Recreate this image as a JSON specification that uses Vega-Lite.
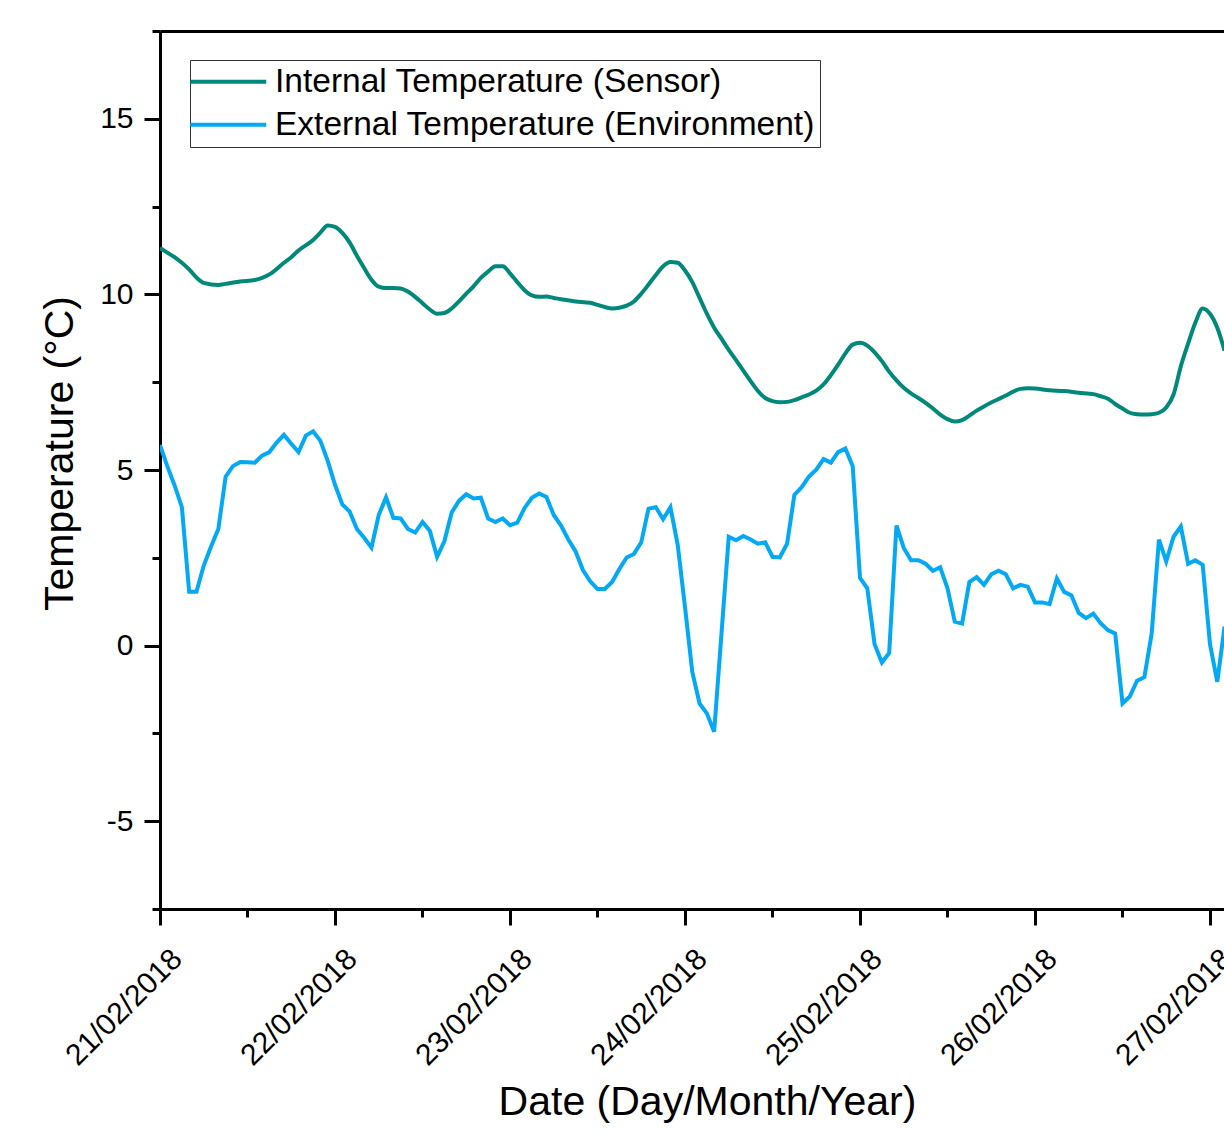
{
  "$schema": "https://vega.github.io/schema/vega-lite/v6.json",
  "autosize": "none",
  "width": 1064,
  "height": 878,
  "padding": {"left": 160, "top": 31, "right": 0, "bottom": 225},
  "background": "white",
  "config": {
    "view": {"stroke": null},
    "font": "Liberation Sans",
    "axis": {
      "labelFont": "Liberation Sans",
      "labelFontSize": 30,
      "labelColor": "black",
      "titleFont": "Liberation Sans",
      "titleFontSize": 41,
      "titleFontWeight": "normal",
      "titleColor": "black",
      "domainColor": "black",
      "domainWidth": 3,
      "tickColor": "black",
      "tickWidth": 3,
      "grid": false,
      "labelFlush": false,
      "labelOverlap": false,
      "labelBound": false
    }
  },
  "datasets": {
    "ext": [
      {"t": "2018-02-21T00:00Z", "v": 5.71}, {"t": "2018-02-21T01:00Z", "v": 5.11}, {"t": "2018-02-21T02:00Z", "v": 4.56}, {"t": "2018-02-21T03:00Z", "v": 3.94},
      {"t": "2018-02-21T04:00Z", "v": 1.53}, {"t": "2018-02-21T05:00Z", "v": 1.53}, {"t": "2018-02-21T06:00Z", "v": 2.28}, {"t": "2018-02-21T07:00Z", "v": 2.82},
      {"t": "2018-02-21T08:00Z", "v": 3.32}, {"t": "2018-02-21T09:00Z", "v": 4.81}, {"t": "2018-02-21T10:00Z", "v": 5.11}, {"t": "2018-02-21T11:00Z", "v": 5.23},
      {"t": "2018-02-21T12:00Z", "v": 5.22}, {"t": "2018-02-21T13:00Z", "v": 5.21}, {"t": "2018-02-21T14:00Z", "v": 5.41}, {"t": "2018-02-21T15:00Z", "v": 5.51},
      {"t": "2018-02-21T16:00Z", "v": 5.78}, {"t": "2018-02-21T17:00Z", "v": 6.0}, {"t": "2018-02-21T18:00Z", "v": 5.75}, {"t": "2018-02-21T19:00Z", "v": 5.51},
      {"t": "2018-02-21T20:00Z", "v": 5.98}, {"t": "2018-02-21T21:00Z", "v": 6.1}, {"t": "2018-02-21T22:00Z", "v": 5.83}, {"t": "2018-02-21T23:00Z", "v": 5.26},
      {"t": "2018-02-22T00:00Z", "v": 4.58}, {"t": "2018-02-22T01:00Z", "v": 4.02}, {"t": "2018-02-22T02:00Z", "v": 3.82}, {"t": "2018-02-22T03:00Z", "v": 3.32},
      {"t": "2018-02-22T04:00Z", "v": 3.07}, {"t": "2018-02-22T05:00Z", "v": 2.79}, {"t": "2018-02-22T06:00Z", "v": 3.72}, {"t": "2018-02-22T07:00Z", "v": 4.22},
      {"t": "2018-02-22T08:00Z", "v": 3.64}, {"t": "2018-02-22T09:00Z", "v": 3.62}, {"t": "2018-02-22T10:00Z", "v": 3.32}, {"t": "2018-02-22T11:00Z", "v": 3.22},
      {"t": "2018-02-22T12:00Z", "v": 3.52}, {"t": "2018-02-22T13:00Z", "v": 3.27}, {"t": "2018-02-22T14:00Z", "v": 2.53}, {"t": "2018-02-22T15:00Z", "v": 2.97},
      {"t": "2018-02-22T16:00Z", "v": 3.79}, {"t": "2018-02-22T17:00Z", "v": 4.12}, {"t": "2018-02-22T18:00Z", "v": 4.31}, {"t": "2018-02-22T19:00Z", "v": 4.19},
      {"t": "2018-02-22T20:00Z", "v": 4.21}, {"t": "2018-02-22T21:00Z", "v": 3.62}, {"t": "2018-02-22T22:00Z", "v": 3.52}, {"t": "2018-02-22T23:00Z", "v": 3.62},
      {"t": "2018-02-23T00:00Z", "v": 3.43}, {"t": "2018-02-23T01:00Z", "v": 3.5}, {"t": "2018-02-23T02:00Z", "v": 3.92}, {"t": "2018-02-23T03:00Z", "v": 4.21},
      {"t": "2018-02-23T04:00Z", "v": 4.33}, {"t": "2018-02-23T05:00Z", "v": 4.23}, {"t": "2018-02-23T06:00Z", "v": 3.72}, {"t": "2018-02-23T07:00Z", "v": 3.42},
      {"t": "2018-02-23T08:00Z", "v": 3.02}, {"t": "2018-02-23T09:00Z", "v": 2.68}, {"t": "2018-02-23T10:00Z", "v": 2.15}, {"t": "2018-02-23T11:00Z", "v": 1.83},
      {"t": "2018-02-23T12:00Z", "v": 1.61}, {"t": "2018-02-23T13:00Z", "v": 1.61}, {"t": "2018-02-23T14:00Z", "v": 1.81}, {"t": "2018-02-23T15:00Z", "v": 2.18},
      {"t": "2018-02-23T16:00Z", "v": 2.51}, {"t": "2018-02-23T17:00Z", "v": 2.61}, {"t": "2018-02-23T18:00Z", "v": 2.94}, {"t": "2018-02-23T19:00Z", "v": 3.9},
      {"t": "2018-02-23T20:00Z", "v": 3.94}, {"t": "2018-02-23T21:00Z", "v": 3.6}, {"t": "2018-02-23T22:00Z", "v": 3.94}, {"t": "2018-02-23T23:00Z", "v": 2.87},
      {"t": "2018-02-24T00:00Z", "v": 1.1}, {"t": "2018-02-24T01:00Z", "v": -0.75}, {"t": "2018-02-24T02:00Z", "v": -1.65}, {"t": "2018-02-24T03:00Z", "v": -1.93},
      {"t": "2018-02-24T04:00Z", "v": -2.45}, {"t": "2018-02-24T05:00Z", "v": 0.33}, {"t": "2018-02-24T06:00Z", "v": 3.1}, {"t": "2018-02-24T07:00Z", "v": 3.0},
      {"t": "2018-02-24T08:00Z", "v": 3.12}, {"t": "2018-02-24T09:00Z", "v": 3.02}, {"t": "2018-02-24T10:00Z", "v": 2.9}, {"t": "2018-02-24T11:00Z", "v": 2.94},
      {"t": "2018-02-24T12:00Z", "v": 2.53}, {"t": "2018-02-24T13:00Z", "v": 2.51}, {"t": "2018-02-24T14:00Z", "v": 2.9}, {"t": "2018-02-24T15:00Z", "v": 4.29},
      {"t": "2018-02-24T16:00Z", "v": 4.51}, {"t": "2018-02-24T17:00Z", "v": 4.81}, {"t": "2018-02-24T18:00Z", "v": 5.01}, {"t": "2018-02-24T19:00Z", "v": 5.31},
      {"t": "2018-02-24T20:00Z", "v": 5.21}, {"t": "2018-02-24T21:00Z", "v": 5.51}, {"t": "2018-02-24T22:00Z", "v": 5.61}, {"t": "2018-02-24T23:00Z", "v": 5.11},
      {"t": "2018-02-25T00:00Z", "v": 1.93}, {"t": "2018-02-25T01:00Z", "v": 1.63}, {"t": "2018-02-25T02:00Z", "v": 0.04}, {"t": "2018-02-25T03:00Z", "v": -0.48},
      {"t": "2018-02-25T04:00Z", "v": -0.21}, {"t": "2018-02-25T05:00Z", "v": 3.42}, {"t": "2018-02-25T06:00Z", "v": 2.78}, {"t": "2018-02-25T07:00Z", "v": 2.43},
      {"t": "2018-02-25T08:00Z", "v": 2.43}, {"t": "2018-02-25T09:00Z", "v": 2.33}, {"t": "2018-02-25T10:00Z", "v": 2.13}, {"t": "2018-02-25T11:00Z", "v": 2.23},
      {"t": "2018-02-25T12:00Z", "v": 1.63}, {"t": "2018-02-25T13:00Z", "v": 0.68}, {"t": "2018-02-25T14:00Z", "v": 0.63}, {"t": "2018-02-25T15:00Z", "v": 1.81},
      {"t": "2018-02-25T16:00Z", "v": 1.95}, {"t": "2018-02-25T17:00Z", "v": 1.73}, {"t": "2018-02-25T18:00Z", "v": 2.03}, {"t": "2018-02-25T19:00Z", "v": 2.13},
      {"t": "2018-02-25T20:00Z", "v": 2.03}, {"t": "2018-02-25T21:00Z", "v": 1.63}, {"t": "2018-02-25T22:00Z", "v": 1.73}, {"t": "2018-02-25T23:00Z", "v": 1.68},
      {"t": "2018-02-26T00:00Z", "v": 1.23}, {"t": "2018-02-26T01:00Z", "v": 1.23}, {"t": "2018-02-26T02:00Z", "v": 1.18}, {"t": "2018-02-26T03:00Z", "v": 1.91},
      {"t": "2018-02-26T04:00Z", "v": 1.53}, {"t": "2018-02-26T05:00Z", "v": 1.43}, {"t": "2018-02-26T06:00Z", "v": 0.93}, {"t": "2018-02-26T07:00Z", "v": 0.78},
      {"t": "2018-02-26T08:00Z", "v": 0.91}, {"t": "2018-02-26T09:00Z", "v": 0.64}, {"t": "2018-02-26T10:00Z", "v": 0.44}, {"t": "2018-02-26T11:00Z", "v": 0.34},
      {"t": "2018-02-26T12:00Z", "v": -1.65}, {"t": "2018-02-26T13:00Z", "v": -1.45}, {"t": "2018-02-26T14:00Z", "v": -1.0}, {"t": "2018-02-26T15:00Z", "v": -0.9},
      {"t": "2018-02-26T16:00Z", "v": 0.34}, {"t": "2018-02-26T17:00Z", "v": 3.02}, {"t": "2018-02-26T18:00Z", "v": 2.4}, {"t": "2018-02-26T19:00Z", "v": 3.1},
      {"t": "2018-02-26T20:00Z", "v": 3.39}, {"t": "2018-02-26T21:00Z", "v": 2.33}, {"t": "2018-02-26T22:00Z", "v": 2.43}, {"t": "2018-02-26T23:00Z", "v": 2.3},
      {"t": "2018-02-27T00:00Z", "v": 0.04}, {"t": "2018-02-27T01:00Z", "v": -1.03}, {"t": "2018-02-27T02:00Z", "v": 0.54}
    ],
    "int": [
      {"t": "2018-02-21T00:00Z", "v": 11.32}, {"t": "2018-02-21T01:00Z", "v": 11.19}, {"t": "2018-02-21T02:00Z", "v": 11.06}, {"t": "2018-02-21T04:00Z", "v": 10.71},
      {"t": "2018-02-21T05:00Z", "v": 10.48}, {"t": "2018-02-21T06:00Z", "v": 10.33}, {"t": "2018-02-21T08:00Z", "v": 10.27}, {"t": "2018-02-21T09:00Z", "v": 10.3},
      {"t": "2018-02-21T11:00Z", "v": 10.37}, {"t": "2018-02-21T13:00Z", "v": 10.41}, {"t": "2018-02-21T14:00Z", "v": 10.47}, {"t": "2018-02-21T15:00Z", "v": 10.57},
      {"t": "2018-02-21T17:00Z", "v": 10.9}, {"t": "2018-02-21T18:00Z", "v": 11.06}, {"t": "2018-02-21T19:00Z", "v": 11.25}, {"t": "2018-02-21T21:00Z", "v": 11.55},
      {"t": "2018-02-21T22:00Z", "v": 11.76}, {"t": "2018-02-21T23:00Z", "v": 11.96}, {"t": "2018-02-22T00:00Z", "v": 11.92}, {"t": "2018-02-22T01:00Z", "v": 11.75},
      {"t": "2018-02-22T02:00Z", "v": 11.48}, {"t": "2018-02-22T03:00Z", "v": 11.1}, {"t": "2018-02-22T04:00Z", "v": 10.75}, {"t": "2018-02-22T05:00Z", "v": 10.42},
      {"t": "2018-02-22T06:00Z", "v": 10.22}, {"t": "2018-02-22T07:00Z", "v": 10.18}, {"t": "2018-02-22T08:00Z", "v": 10.18}, {"t": "2018-02-22T09:00Z", "v": 10.17},
      {"t": "2018-02-22T10:00Z", "v": 10.08}, {"t": "2018-02-22T11:00Z", "v": 9.93}, {"t": "2018-02-22T12:00Z", "v": 9.75}, {"t": "2018-02-22T13:00Z", "v": 9.57},
      {"t": "2018-02-22T14:00Z", "v": 9.45}, {"t": "2018-02-22T15:00Z", "v": 9.47}, {"t": "2018-02-22T16:00Z", "v": 9.6}, {"t": "2018-02-22T17:00Z", "v": 9.8},
      {"t": "2018-02-22T18:00Z", "v": 10.02}, {"t": "2018-02-22T19:00Z", "v": 10.23}, {"t": "2018-02-22T20:00Z", "v": 10.47}, {"t": "2018-02-22T21:00Z", "v": 10.65},
      {"t": "2018-02-22T22:00Z", "v": 10.8}, {"t": "2018-02-22T23:00Z", "v": 10.8}, {"t": "2018-02-23T00:00Z", "v": 10.6}, {"t": "2018-02-23T01:00Z", "v": 10.35},
      {"t": "2018-02-23T02:00Z", "v": 10.12}, {"t": "2018-02-23T03:00Z", "v": 9.97}, {"t": "2018-02-23T04:00Z", "v": 9.93}, {"t": "2018-02-23T05:00Z", "v": 9.94},
      {"t": "2018-02-23T06:00Z", "v": 9.9}, {"t": "2018-02-23T07:00Z", "v": 9.86}, {"t": "2018-02-23T09:00Z", "v": 9.8}, {"t": "2018-02-23T11:00Z", "v": 9.76},
      {"t": "2018-02-23T12:00Z", "v": 9.7}, {"t": "2018-02-23T13:00Z", "v": 9.64}, {"t": "2018-02-23T14:00Z", "v": 9.6}, {"t": "2018-02-23T15:00Z", "v": 9.62},
      {"t": "2018-02-23T16:00Z", "v": 9.68}, {"t": "2018-02-23T17:00Z", "v": 9.8}, {"t": "2018-02-23T18:00Z", "v": 10.02}, {"t": "2018-02-23T19:00Z", "v": 10.28},
      {"t": "2018-02-23T20:00Z", "v": 10.55}, {"t": "2018-02-23T21:00Z", "v": 10.8}, {"t": "2018-02-23T22:00Z", "v": 10.92}, {"t": "2018-02-23T23:00Z", "v": 10.9},
      {"t": "2018-02-24T00:00Z", "v": 10.68}, {"t": "2018-02-24T01:00Z", "v": 10.35}, {"t": "2018-02-24T02:00Z", "v": 9.9}, {"t": "2018-02-24T03:00Z", "v": 9.45},
      {"t": "2018-02-24T04:00Z", "v": 9.05}, {"t": "2018-02-24T05:00Z", "v": 8.74}, {"t": "2018-02-24T06:00Z", "v": 8.42}, {"t": "2018-02-24T07:00Z", "v": 8.13},
      {"t": "2018-02-24T08:00Z", "v": 7.83}, {"t": "2018-02-24T09:00Z", "v": 7.53}, {"t": "2018-02-24T10:00Z", "v": 7.25}, {"t": "2018-02-24T11:00Z", "v": 7.05},
      {"t": "2018-02-24T12:00Z", "v": 6.96}, {"t": "2018-02-24T13:00Z", "v": 6.93}, {"t": "2018-02-24T14:00Z", "v": 6.94}, {"t": "2018-02-24T15:00Z", "v": 6.99},
      {"t": "2018-02-24T16:00Z", "v": 7.07}, {"t": "2018-02-24T17:00Z", "v": 7.15}, {"t": "2018-02-24T18:00Z", "v": 7.26}, {"t": "2018-02-24T19:00Z", "v": 7.44},
      {"t": "2018-02-24T20:00Z", "v": 7.7}, {"t": "2018-02-24T21:00Z", "v": 8.0}, {"t": "2018-02-24T22:00Z", "v": 8.32}, {"t": "2018-02-24T23:00Z", "v": 8.57},
      {"t": "2018-02-25T00:00Z", "v": 8.62}, {"t": "2018-02-25T01:00Z", "v": 8.54}, {"t": "2018-02-25T02:00Z", "v": 8.35}, {"t": "2018-02-25T03:00Z", "v": 8.1},
      {"t": "2018-02-25T04:00Z", "v": 7.8}, {"t": "2018-02-25T05:00Z", "v": 7.55}, {"t": "2018-02-25T06:00Z", "v": 7.34}, {"t": "2018-02-25T07:00Z", "v": 7.18},
      {"t": "2018-02-25T08:00Z", "v": 7.05}, {"t": "2018-02-25T09:00Z", "v": 6.91}, {"t": "2018-02-25T10:00Z", "v": 6.75}, {"t": "2018-02-25T11:00Z", "v": 6.58},
      {"t": "2018-02-25T12:00Z", "v": 6.45}, {"t": "2018-02-25T13:00Z", "v": 6.38}, {"t": "2018-02-25T14:00Z", "v": 6.42}, {"t": "2018-02-25T15:00Z", "v": 6.55},
      {"t": "2018-02-25T16:00Z", "v": 6.69}, {"t": "2018-02-25T17:00Z", "v": 6.81}, {"t": "2018-02-25T18:00Z", "v": 6.92}, {"t": "2018-02-25T19:00Z", "v": 7.02},
      {"t": "2018-02-25T20:00Z", "v": 7.12}, {"t": "2018-02-25T21:00Z", "v": 7.23}, {"t": "2018-02-25T22:00Z", "v": 7.31}, {"t": "2018-02-25T23:00Z", "v": 7.33},
      {"t": "2018-02-26T00:00Z", "v": 7.32}, {"t": "2018-02-26T02:00Z", "v": 7.27}, {"t": "2018-02-26T04:00Z", "v": 7.25}, {"t": "2018-02-26T06:00Z", "v": 7.2},
      {"t": "2018-02-26T08:00Z", "v": 7.16}, {"t": "2018-02-26T09:00Z", "v": 7.1}, {"t": "2018-02-26T10:00Z", "v": 7.03}, {"t": "2018-02-26T11:00Z", "v": 6.88},
      {"t": "2018-02-26T12:00Z", "v": 6.75}, {"t": "2018-02-26T13:00Z", "v": 6.63}, {"t": "2018-02-26T14:00Z", "v": 6.59}, {"t": "2018-02-26T15:00Z", "v": 6.58},
      {"t": "2018-02-26T16:00Z", "v": 6.59}, {"t": "2018-02-26T17:00Z", "v": 6.63}, {"t": "2018-02-26T18:00Z", "v": 6.78}, {"t": "2018-02-26T19:00Z", "v": 7.15},
      {"t": "2018-02-26T20:00Z", "v": 7.95}, {"t": "2018-02-26T21:00Z", "v": 8.6}, {"t": "2018-02-26T22:00Z", "v": 9.2}, {"t": "2018-02-26T23:00Z", "v": 9.6},
      {"t": "2018-02-27T00:00Z", "v": 9.45}, {"t": "2018-02-27T01:00Z", "v": 9.05}, {"t": "2018-02-27T02:00Z", "v": 8.4}
    ]
  },
  "resolve": {"axis": {"x": "independent"}},
  "layer": [
    {
      "data": {"name": "ext"},
      "mark": {"type": "line", "strokeWidth": 4, "clip": true},
      "encoding": {
        "x": {
          "field": "t",
          "type": "temporal",
          "scale": {"type": "utc", "domain": [{"year": 2018, "month": 2, "date": 21, "utc": true}, {"year": 2018, "month": 2, "date": 27, "hours": 1, "minutes": 55, "seconds": 18, "utc": true}]},
          "axis": {
            "orient": "bottom",
            "values": [
              {"year": 2018, "month": 2, "date": 21, "hours": 0, "utc": true}, {"year": 2018, "month": 2, "date": 21, "hours": 12, "utc": true},
              {"year": 2018, "month": 2, "date": 22, "hours": 0, "utc": true}, {"year": 2018, "month": 2, "date": 22, "hours": 12, "utc": true},
              {"year": 2018, "month": 2, "date": 23, "hours": 0, "utc": true}, {"year": 2018, "month": 2, "date": 23, "hours": 12, "utc": true},
              {"year": 2018, "month": 2, "date": 24, "hours": 0, "utc": true}, {"year": 2018, "month": 2, "date": 24, "hours": 12, "utc": true},
              {"year": 2018, "month": 2, "date": 25, "hours": 0, "utc": true}, {"year": 2018, "month": 2, "date": 25, "hours": 12, "utc": true},
              {"year": 2018, "month": 2, "date": 26, "hours": 0, "utc": true}, {"year": 2018, "month": 2, "date": 26, "hours": 12, "utc": true},
              {"year": 2018, "month": 2, "date": 27, "hours": 0, "utc": true}
            ],
            "labelExpr": "utchours(datum.value) == 0 ? utcFormat(datum.value, '%d/%m/%Y') : ''",
            "labelAngle": -45,
            "labelAlign": "right",
            "labelBaseline": "middle",
            "labelOffset": 17,
            "labelPadding": 29,
            "tickSize": {"condition": {"test": "utchours(datum.value) != 0", "value": 8}, "value": 16},
            "title": "Date (Day/Month/Year)",
            "titleX": 547,
            "titleY": 205,
            "titleBaseline": "alphabetic",
            "titleAlign": "center"
          }
        },
        "y": {
          "field": "v",
          "type": "quantitative",
          "scale": {"domain": [-7.5, 17.5], "nice": false, "zero": false},
          "axis": {
            "values": [-7.5, -5, -2.5, 0, 2.5, 5, 7.5, 10, 12.5, 15, 17.5],
            "labelExpr": "datum.value % 5 == 0 ? '' + datum.value : ''",
            "tickSize": {"condition": {"test": "datum.value % 5 != 0", "value": 8}, "value": 16},
            "labelPadding": 11,
            "labelAlign": "right",
            "labelBaseline": "middle",
            "title": "Temperature (°C)",
            "titleAngle": -90,
            "titleX": -88,
            "titleY": 422,
            "titleBaseline": "alphabetic",
            "titleAlign": "center"
          }
        },
        "color": {
          "datum": "External Temperature (Environment)",
          "scale": {"domain": ["Internal Temperature (Sensor)", "External Temperature (Environment)"], "range": ["#00897B", "#03A9F4"]},
          "legend": {
            "orient": "none",
            "legendX": 30,
            "legendY": 29,
            "title": null,
            "symbolType": "M-4,0H4",
            "symbolSize": 361,
            "symbolStrokeWidth": 4,
            "symbolOffset": 16.5,
            "labelOffset": 30,
            "labelFont": "Liberation Sans",
            "labelFontSize": 33.5,
            "labelColor": "black",
            "labelLimit": 0,
            "padding": 5,
            "rowPadding": 8,
            "strokeColor": "#333333",
            "fillColor": "white"
          }
        }
      }
    },
    {
      "data": {"name": "int"},
      "mark": {"type": "line", "strokeWidth": 4, "clip": true, "interpolate": "monotone"},
      "encoding": {
        "x": {
          "field": "t",
          "type": "temporal",
          "scale": {"type": "utc", "domain": [{"year": 2018, "month": 2, "date": 21, "utc": true}, {"year": 2018, "month": 2, "date": 27, "hours": 1, "minutes": 55, "seconds": 18, "utc": true}]},
          "axis": {"orient": "top", "labels": false, "ticks": false, "title": null, "domainWidth": 3, "domainColor": "black"}
        },
        "y": {"field": "v", "type": "quantitative", "scale": {"domain": [-7.5, 17.5], "nice": false, "zero": false}},
        "color": {"datum": "Internal Temperature (Sensor)"}
      }
    }
  ]
}
